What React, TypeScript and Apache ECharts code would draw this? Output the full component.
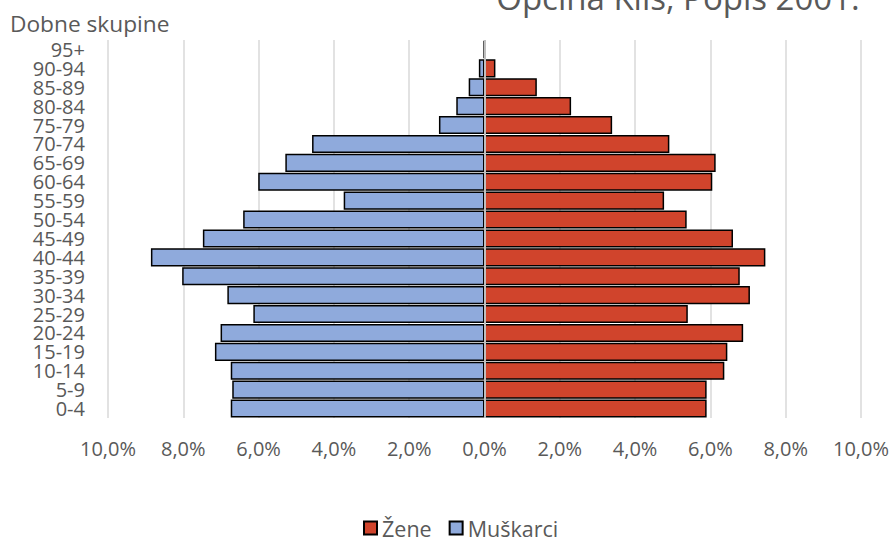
import React, { useEffect, useRef } from "react";
import * as echarts from "echarts";

const categories = ["0-4", "5-9", "10-14", "15-19", "20-24", "25-29", "30-34", "35-39", "40-44", "45-49", "50-54", "55-59", "60-64", "65-69", "70-74", "75-79", "80-84", "85-89", "90-94", "95+"];
// shares in percent
const muskarci = [6.74, 6.70, 6.74, 7.16, 7.01, 6.14, 6.83, 8.03, 8.86, 7.48, 6.41, 3.74, 6.01, 5.29, 4.58, 1.21, 0.75, 0.42, 0.15, 0.02];
const zene = [5.90, 5.90, 6.37, 6.45, 6.87, 5.40, 7.05, 6.78, 7.46, 6.60, 5.37, 4.77, 6.05, 6.14, 4.91, 3.39, 2.30, 1.39, 0.29, 0.03];
const xTicks = { min: -10, max: 10, interval: 2 };
const titleText = "Općina Klis, Popis 2001.";
const yAxisTitle = "Dobne skupine";

const FONT = "'Open Sans', 'Noto Sans', sans-serif";
const GREY = "#595959";

export default function App() {
  const ref = useRef<HTMLDivElement>(null);
  useEffect(() => {
    if (!ref.current) return;
    const chart = echarts.init(ref.current, null, { renderer: "svg" });
    chart.setOption({
      animation: false,
      backgroundColor: "#ffffff",
      textStyle: { fontFamily: FONT },
      grid: { left: 108, right: 33, top: 40, bottom: 120, containLabel: false },
      legend: {
        data: ["Žene", "Muškarci"],
        top: 512,
        left: 358,
        icon: "rect",
        itemWidth: 13,
        itemHeight: 13,
        itemGap: 17,
        textStyle: { color: GREY, fontSize: 21.5, fontFamily: FONT },
      },
      xAxis: {
        type: "value",
        min: xTicks.min,
        max: xTicks.max,
        interval: xTicks.interval,
        axisLine: { show: false },
        axisTick: { show: false },
        splitLine: { show: true, lineStyle: { color: "#D9D9D9", width: 1.5 } },
        axisLabel: {
          color: GREY,
          fontSize: 20,
          fontFamily: FONT,
          margin: 20,
          formatter: (v: number) => Math.abs(v).toFixed(1).replace(".", ",") + "%",
        },
      },
      yAxis: {
        type: "category",
        data: categories,
        axisLine: { show: false },
        axisTick: { show: false },
        axisLabel: { color: GREY, fontSize: 20, fontFamily: FONT, margin: 23, interval: 0, lineHeight: 18 },
      },
      graphic: [
        {
          type: "text",
          x: 678,
          y: 14,
          style: { text: titleText, fill: GREY, font: `33px ${FONT}`, align: "center", verticalAlign: "bottom" },
        },
        {
          type: "text",
          x: 10,
          y: 23,
          style: { text: yAxisTitle, fill: GREY, font: `22.7px ${FONT}`, align: "left", verticalAlign: "middle" },
        },
      ],
      series: [
        {
          name: "Muškarci",
          type: "bar",
          data: muskarci.map((v) => -v),
          barGap: "-100%",
          barCategoryGap: "4%",
          itemStyle: { color: "#8FAADC", borderColor: "#000000", borderWidth: 1.5 },
        },
        {
          name: "Žene",
          type: "bar",
          data: zene,
          barGap: "-100%",
          barCategoryGap: "4%",
          itemStyle: { color: "#D0442C", borderColor: "#000000", borderWidth: 1.5 },
          markLine: {
            silent: true,
            symbol: "none",
            label: { show: false },
            lineStyle: { color: "#BFBFBF", width: 2, type: "solid" },
            data: [{ xAxis: 0 }],
          },
        },
      ],
    });
    return () => chart.dispose();
  }, []);
  return <div ref={ref} style={{ width: 894, height: 538, position: "absolute", left: 0, top: 0 }} />;
}
